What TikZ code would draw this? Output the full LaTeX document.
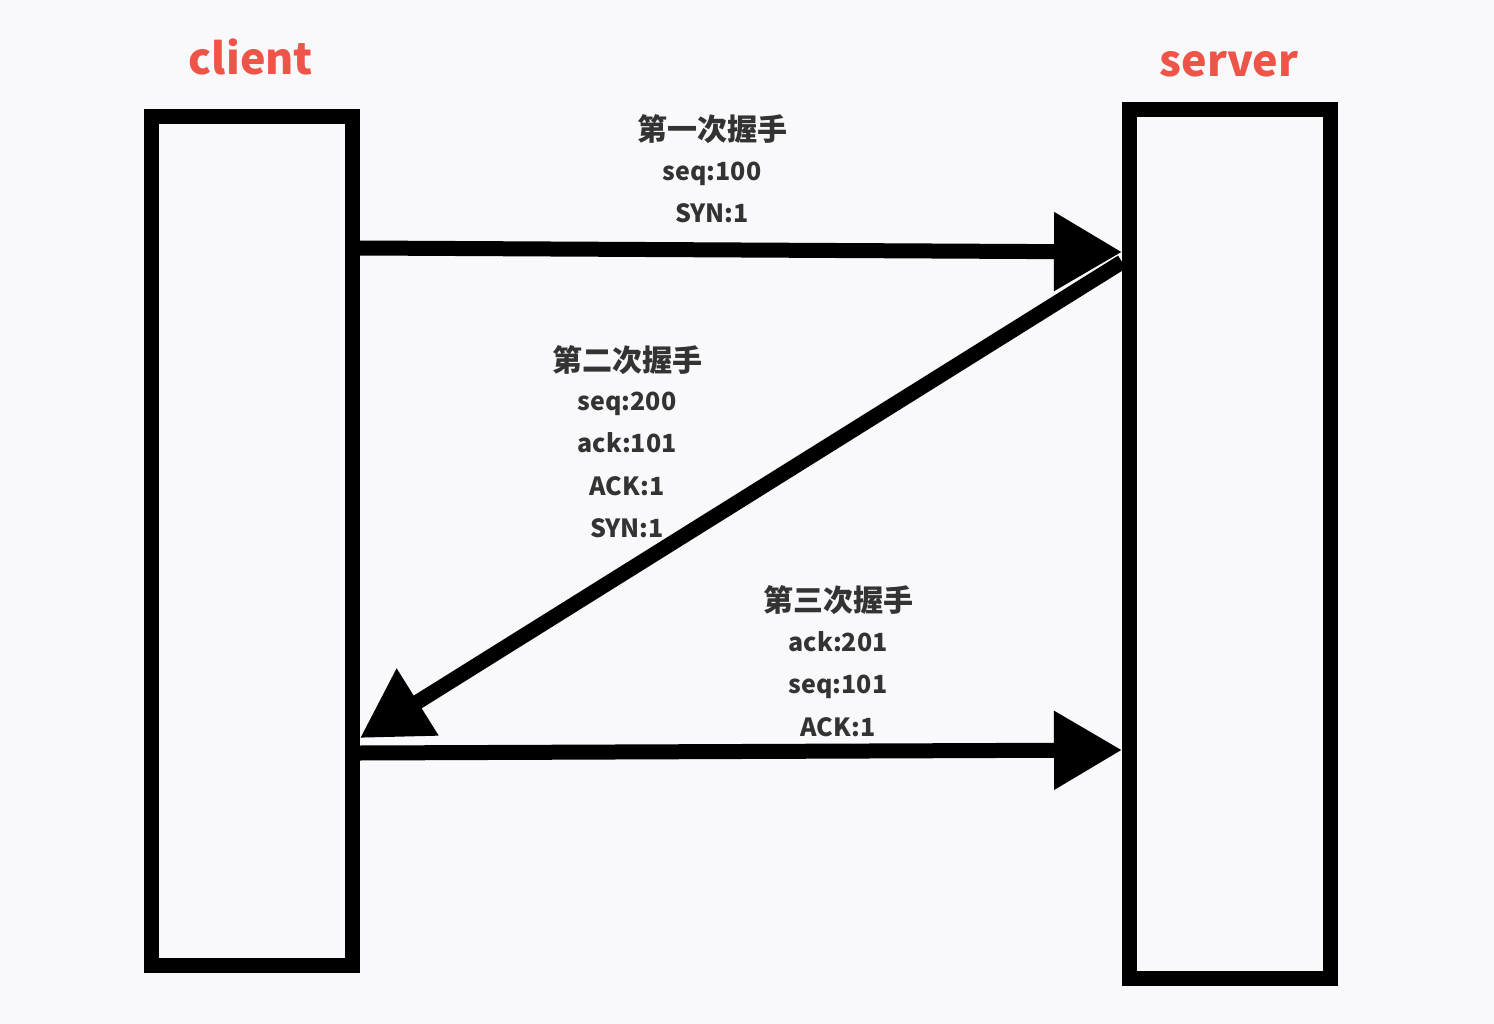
\documentclass[tikz,border=0pt]{standalone}
\usepackage{fontspec}
\setmainfont{Noto Sans CJK SC}
\usetikzlibrary{arrows.meta}
\definecolor{fond}{HTML}{F9F9FB}
\definecolor{rouge}{HTML}{EE5548}
\definecolor{gris}{HTML}{333333}
\tikzset{
  host/.style={draw, line width=15pt, minimum width=201pt, inner sep=0pt},
  hostname/.style={anchor=base, text=rouge, font=\bfseries\fontsize{43}{43}\selectfont},
  msg/.style={line width=15pt, -{Triangle[length=68pt,width=75pt]}},
  titre/.style={anchor=base, text=gris, font=\bfseries\fontsize{30}{30}\selectfont},
  champ/.style={anchor=base, text=gris, font=\bfseries\fontsize{25}{25}\selectfont},
}
\begin{document}
\begin{tikzpicture}[x=1pt,y=-1pt]
  % Le fond
  \fill[fond] (0,0) rectangle (1494,1024);
  \useasboundingbox (0,0) rectangle (1494,1024);

  % Les boites
  \node[host, minimum height=849pt] (client) at (252,541) {};
  \node[host, minimum height=869pt] (server) at (1230,544) {};

  % Les noms
  \node[hostname] (clientname) at (251,75) {client};
  \node[hostname] (servername) at (1229,77) {server};

  % Les fleches
  \coordinate (c1) at (client.east |- 0,248);
  \coordinate (s1) at (server.west |- 0,252);
  \coordinate (s2) at (server.west |- 0,262);
  \coordinate (c2) at (client.east |- 0,738);
  \coordinate (c3) at (client.east |- 0,753);
  \coordinate (s3) at (server.west |- 0,750);
  \draw[msg] (c1) -- (s1);
  \draw[msg] (s2) -- (c2);
  \draw[msg] (c3) -- (s3);

  % Les textes
  \node[titre] (t1) at (712,141) {第一次握手};
  \node[champ] (t1a) at (712,181) {seq:100};
  \node[champ] (t1b) at (712,223) {SYN:1};

  \node[titre] (t2) at (627,371) {第二次握手};
  \node[champ] (t2a) at (627,410) {seq:200};
  \node[champ] (t2b) at (627,452) {ack:101};
  \node[champ] (t2c) at (627,495) {ACK:1};
  \node[champ] (t2d) at (627,537) {SYN:1};

  \node[titre] (t3) at (838,611) {第三次握手};
  \node[champ] (t3a) at (838,651) {ack:201};
  \node[champ] (t3b) at (838,693) {seq:101};
  \node[champ] (t3c) at (838,736) {ACK:1};

\end{tikzpicture}
\end{document}
